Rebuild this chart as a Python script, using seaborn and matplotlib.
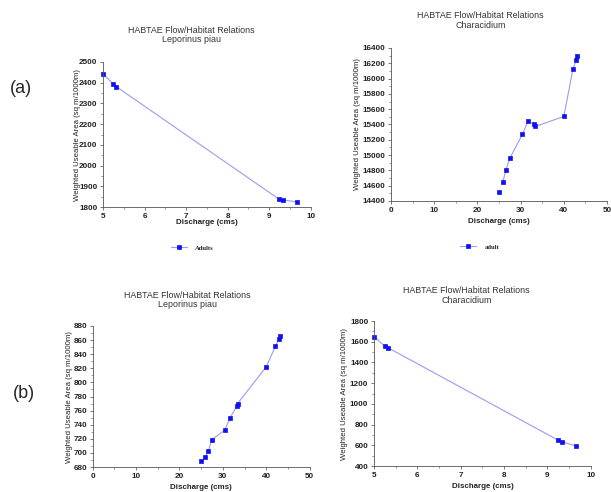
import seaborn as sns
import matplotlib.pyplot as plt
from matplotlib.ticker import MultipleLocator

sns.set_style('ticks')
plt.rcParams['font.family'] = ['Liberation Sans', 'DejaVu Sans']

# low discharge runs (cms)
low_q = [5.0, 5.25, 5.32, 9.24, 9.33, 9.66]
leporinus_a = [2443, 2393, 2381, 1838, 1835, 1825]
characidium_b = [1649, 1559, 1543, 651, 635, 593]

# high discharge runs (cms)
high_q = [25.0, 25.9, 26.6, 27.5, 30.4, 31.7, 33.2, 33.4, 40.0, 42.1, 42.9, 43.1]
characidium_a = [14522, 14653, 14806, 14960, 15269, 15440, 15400, 15374, 15505, 16121, 16247, 16290]
leporinus_b = [688, 694, 702, 719, 732, 750, 766, 770, 822, 851, 862, 866]

line_c = '#9a9af4'
pt_c = '#1010f0'
title_top = 'HABTAE Flow/Habitat Relations'
ylab = 'Weighted Useable Area (sq m/1000m)'

fig = plt.figure(figsize=(6.11, 4.92), dpi=100)


def panel(rect, x, y, xlim, xstep, ylim, ystep, species, title_xy,
          ylab_x, xlab_y, label=None, legend_xy=None, skip_first=False):
    ax = fig.add_axes(rect)
    start = 1 if skip_first else 0
    sns.lineplot(x=x[start:], y=y[start:], ax=ax, color=line_c, lw=0.8,
                 marker='s', markersize=2.3, markerfacecolor=pt_c,
                 markeredgecolor=pt_c, markeredgewidth=0.5,
                 label=label, clip_on=False)
    if skip_first:
        sns.scatterplot(x=x[:1], y=y[:1], ax=ax, marker='s', s=5.5,
                        color=pt_c, edgecolor=pt_c, linewidth=0.5, clip_on=False)
    if ax.get_legend() is not None:
        ax.get_legend().remove()
    ax.set_xlim(*xlim)
    ax.set_ylim(*ylim)
    ax.xaxis.set_major_locator(MultipleLocator(xstep))
    ax.xaxis.set_minor_locator(MultipleLocator(xstep / 2))
    ax.yaxis.set_major_locator(MultipleLocator(ystep))
    ax.yaxis.set_minor_locator(MultipleLocator(ystep / 2))
    ax.tick_params(which='major', length=2.5, width=0.5, pad=1.5,
                   labelsize=5.9, colors='#444444', labelcolor='#222222')
    ax.tick_params(which='minor', length=1.5, width=0.4, colors='#444444')
    for t in ax.get_xticklabels() + ax.get_yticklabels():
        t.set_fontweight('bold')
    sns.despine(ax=ax)
    for s in ('left', 'bottom'):
        ax.spines[s].set_linewidth(0.6)
        ax.spines[s].set_color('#555555')
    ax.set_xlabel('Discharge (cms)', fontsize=5.7, fontweight='bold', color='#222222')
    ax.set_ylabel(ylab, fontsize=5.6, color='#222222')
    ax.xaxis.set_label_coords(0.5, xlab_y)
    ax.yaxis.set_label_coords(ylab_x, 0.5)
    fig.text(title_xy[0], title_xy[1], title_top + '\n' + species,
             ha='center', va='center', fontsize=6.4, color='#333333',
             linespacing=1.1)
    if label is not None:
        h, l = ax.get_legend_handles_labels()
        fig.legend(h[:1], l[:1], loc='center', bbox_to_anchor=legend_xy,
                   frameon=False, handlelength=2.4, handletextpad=1.2,
                   prop={'family': 'Liberation Serif', 'size': 4.8, 'weight': 'bold'})
    return ax


panel([0.1686, 0.579, 0.340, 0.295], low_q, leporinus_a, (5, 10), 1,
      (1800, 2500), 100, 'Leporinus piau', (0.313, 0.929),
      -0.108, -0.082, label='Adults', legend_xy=(0.315, 0.496))
panel([0.640, 0.5915, 0.3535, 0.311], high_q, characidium_a, (0, 50), 10,
      (14400, 16400), 200, 'Characidium', (0.786, 0.959),
      -0.14, -0.114, label='adult', legend_xy=(0.785, 0.498), skip_first=True)
panel([0.1517, 0.0508, 0.355, 0.2866], high_q, leporinus_b, (0, 50), 10,
      (680, 880), 20, 'Leporinus piau', (0.307, 0.390),
      -0.09, -0.117)
panel([0.612, 0.0528, 0.355, 0.2947], low_q, characidium_b, (5, 10), 1,
      (400, 1800), 200, 'Characidium', (0.764, 0.400),
      -0.12, -0.114)

fig.text(0.034, 0.821, '(a)', ha='center', va='center', fontsize=13)
fig.text(0.039, 0.201, '(b)', ha='center', va='center', fontsize=13)

fig.savefig('out.png', dpi=100)
